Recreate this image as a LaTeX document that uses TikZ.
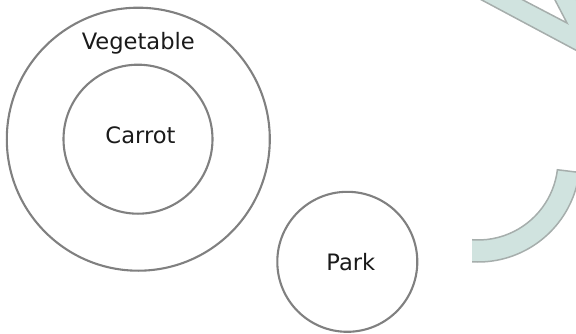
\documentclass[tikz,border=0pt]{standalone}
\usepackage{fontspec}
\setmainfont{DejaVu Sans}
\definecolor{ringgray}{HTML}{808080}
\definecolor{txt}{HTML}{1A1A1A}
\definecolor{tealfill}{HTML}{D0E3DF}
\definecolor{tealline}{HTML}{A6AEAC}
\begin{document}
\begin{tikzpicture}[x=1pt,y=1pt,
  setcircle/.style={circle,draw=ringgray,line width=2.1pt,inner sep=0pt},
  lbl/.style={text=txt,font=\fontsize{22.6}{25}\selectfont,anchor=base,inner sep=0pt},
  deco/.style={fill=tealfill,draw=tealline,line width=1.5pt,line join=miter}]
\useasboundingbox (0,0) rectangle (576,333);
\clip (0,0) rectangle (576,333);
% decorative shapes at right
\begin{scope}
\clip (472,0) rectangle (576,333);
\path[deco] (478,173) ++(-7:80) arc[start angle=-7,end angle=-100,radius=80]
  -- ++(-100:22) arc[start angle=-100,end angle=-7,radius=102] -- cycle;
\end{scope}
\path[deco] (463,343) -- (613,263) -- (571.5,343) -- (549.8,343) -- (567,310) -- (503.9,343) -- cycle;
% circles
\node[setcircle,minimum size=263pt] (veg) at (138.3,193.8) {};
\node[setcircle,minimum size=149pt] (car) at (138,193.8) {};
\node[setcircle,minimum size=140pt] (park) at (347.3,71.2) {};
\node[lbl] (vegl) at (138.3,283.5) {Vegetable};
\node[lbl] (carl) at (140.5,189.7) {Carrot};
\node[lbl] (parkl) at (350.8,63) {Park};
\end{tikzpicture}
\end{document}
